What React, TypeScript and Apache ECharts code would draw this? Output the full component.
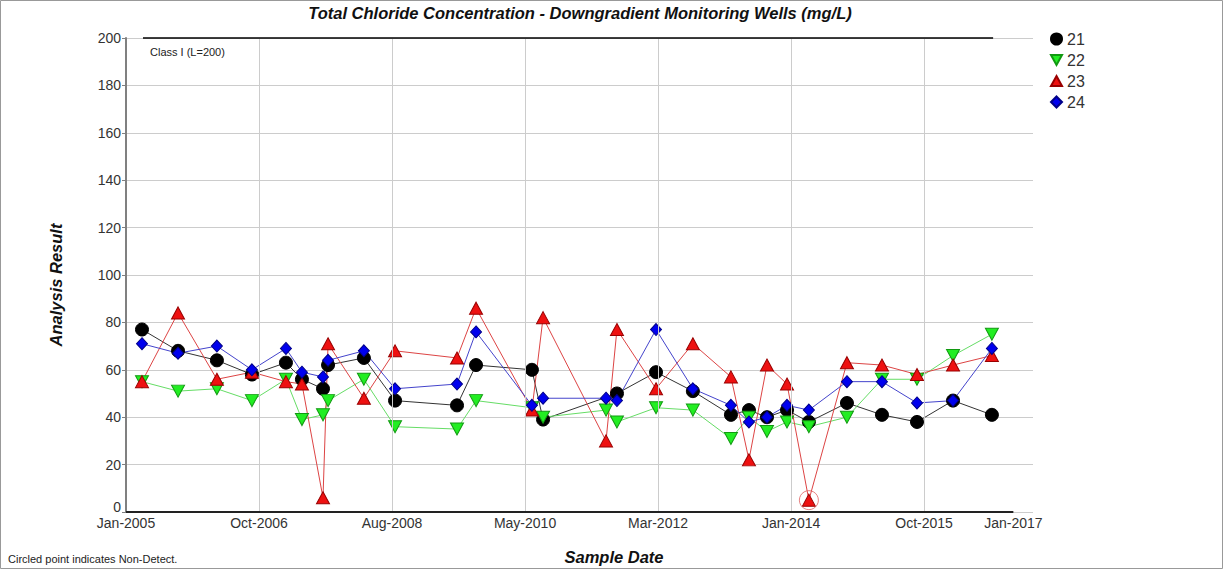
import React, { useEffect, useRef } from "react";
import * as echarts from "echarts";

// ---- data ----
const sampleDates = [
  "2005-03-21", "2005-09-15", "2006-03-26", "2006-09-15", "2007-03-02", "2007-05-20",
  "2007-09-01", "2007-09-26", "2008-03-21", "2008-08-22", "2009-06-24", "2009-09-26",
  "2010-06-29", "2010-08-23", "2011-06-30", "2011-08-23", "2012-03-03", "2012-09-01",
  "2013-03-08", "2013-06-05", "2013-09-02", "2013-12-10", "2014-03-28", "2014-10-02",
  "2015-03-24", "2015-09-13", "2016-03-09", "2016-09-17",
];
const well21 = [77, 68, 64, 58, 63, 56, 52, 62, 65, 47, 45, 62, 60, 39, null, 50, 59, 51, 41, 43, 40, 43, 38, 46, 41, 38, 47, 41];
const well22 = [55, 51, 52, 47, 56, 39, 41, 47, 56, 36, 35, 47, 44, 40, 43, 38, 44, 43, 31, 40, 34, 38, 36, 40, 56, 56, 66, 75];
const well23 = [55, 84, 56, 59, 55, 54, 6, 71, 48, 68, 65, 86, 43, 82, 30, 77, 52, 71, 57, 22, 62, 54, 5, 63, 62, 58, 62, 66];
const well24 = [71, 67, 70, 60, 69, 59, 57, 64, 68, 52, 54, 76, 45, 48, 48, 47, 77, 52, 45, 38, 40, 45, 43, 55, 55, 46, 47, 69];

const nonDetectDates = ["2014-03-28"];
const nonDetectValues = [5];

const xTickDays = [0, 657, 1314, 1971, 2628, 3285, 3942, 4383];
const xTickLabels = ["Jan-2005", "Oct-2006", "Aug-2008", "May-2010", "Mar-2012", "Jan-2014", "Oct-2015", "Jan-2017"];

const limitValue = 200;
const limitLabel = "Class I (L=200)";
const limitStartDays = 84;
const limitEndDays = 4283;

const titleText = "Total Chloride Concentration - Downgradient Monitoring Wells (mg/L)";
const yName = "Analysis Result";
const xName = "Sample Date";
const footnote = "Circled point indicates Non-Detect.";

// ---- helpers ----
const EPOCH = Date.UTC(2005, 0, 1);
const toDays = (s: string) => {
  const [y, m, d] = s.split("-").map(Number);
  return (Date.UTC(y, m - 1, d) - EPOCH) / 86400000;
};
const pts = (vals: (number | null)[]) =>
  sampleDates
    .map((d, i) => [toDays(d), vals[i]])
    .filter((p) => p[1] !== null && p[1] !== undefined);

const FONT = 'Arial, "Liberation Sans", sans-serif';

export default function App() {
  const ref = useRef<HTMLDivElement>(null);
  useEffect(() => {
    if (!ref.current) return;
    const chart = echarts.init(ref.current, undefined, { renderer: "svg" });

    const mkSeries = (name: string, vals: (number | null)[], symbol: string, size: any, color: string, border: string, line: string, rotate = 0) => ({
      type: "line",
      name,
      data: pts(vals),
      symbol,
      symbolSize: size,
      symbolRotate: rotate,
      showAllSymbol: true,
      z: 3,
      lineStyle: { color: line, width: 1 },
      itemStyle: { color, borderColor: border, borderWidth: 1, opacity: 1 },
      emphasis: { disabled: true },
    });

    const option: any = {
      animation: false,
      backgroundColor: "#ffffff",
      textStyle: { fontFamily: FONT },
      grid: { left: 126, right: 192, top: 38, bottom: 59, containLabel: false },
      xAxis: {
        type: "value",
        min: 0,
        max: 4480,
        axisLine: { show: false },
        axisTick: { show: false },
        splitLine: { show: false },
        axisLabel: {
          customValues: xTickDays,
          formatter: (v: number) => {
            const i = xTickDays.indexOf(Math.round(v));
            return i >= 0 ? xTickLabels[i] : "";
          },
          fontSize: 14,
          lineHeight: 14,
          color: "#333",
          fontFamily: FONT,
          margin: 4,
        },
      },
      yAxis: {
        type: "value",
        min: 0,
        max: 200,
        interval: 20,
        axisLine: { show: true, lineStyle: { color: "#808080", width: 2 } },
        axisTick: { show: true, length: 4, lineStyle: { color: "#808080" } },
        axisLabel: {
          fontSize: 14,
          lineHeight: 12,
          color: "#333",
          fontFamily: FONT,
          margin: 5,
          formatter: (v: number) => (v === 0 ? "" : String(v)),
        },
        splitLine: { show: true, lineStyle: { color: "#cccccc", width: 1 } },
      },
      legend: {
        orient: "vertical",
        left: 1045,
        top: 26,
        itemWidth: 11,
        itemHeight: 11,
        itemGap: 5,
        textStyle: { fontSize: 16, color: "#333", fontFamily: FONT },
        data: [
          { name: "21", icon: "circle" },
          { name: "22", icon: "path://M0,0L10,0L5,9Z" },
          { name: "23", icon: "path://M5,0L10,9L0,9Z" },
          { name: "24", icon: "diamond" },
        ],
      },
      series: [
        {
          type: "line",
          name: "refs",
          data: [],
          silent: true,
          z: 1,
          markLine: {
            silent: true,
            symbol: ["none", "none"],
            label: { show: false },
            animation: false,
            data: [
              ...xTickDays.slice(1, 7).map((d) => ({ xAxis: d, lineStyle: { color: "#cccccc", width: 1, type: "solid" } })),
              [
                { coord: [xTickDays[0], 0], lineStyle: { color: "#222", width: 2, type: "solid" } },
                { coord: [xTickDays[xTickDays.length - 1], 0] },
              ],
              [
                { coord: [limitStartDays, limitValue], lineStyle: { color: "#000", width: 1.5, type: "solid" } },
                { coord: [limitEndDays, limitValue] },
              ],
            ],
          },
        },
        mkSeries("21", well21, "circle", 13, "#000000", "#000000", "#333333"),
        mkSeries("22", well22, "triangle", [13, 12], "#22ee22", "#119911", "#66dd66", 180),
        mkSeries("23", well23, "triangle", [13, 12], "#ee1111", "#990000", "#dd4444"),
        mkSeries("24", well24, "diamond", [11, 12], "#0000ee", "#000088", "#4444cc"),
        {
          type: "scatter",
          name: "nd",
          data: nonDetectDates.map((d, i) => [toDays(d), nonDetectValues[i]]),
          symbol: "circle",
          symbolSize: 19,
          z: 4,
          silent: true,
          itemStyle: { color: "rgba(0,0,0,0)", borderColor: "#e06060", borderWidth: 1 },
        },
      ],
      graphic: [
        {
          type: "rect",
          shape: { x: 0.5, y: 0.5, width: 1222, height: 568 },
          style: { fill: "none", stroke: "#999", lineWidth: 1 },
          silent: true,
        },
        {
          type: "text",
          x: 121,
          y: 507,
          style: { text: "0", font: `14px ${FONT}`, fill: "#333", align: "right", verticalAlign: "middle" },
        },
        {
          type: "text",
          x: 580,
          y: 13,
          style: { text: titleText, font: `italic bold 16.5px ${FONT}`, fill: "#111", align: "center", verticalAlign: "middle" },
        },
        {
          type: "text",
          x: 56,
          y: 285,
          rotation: Math.PI / 2,
          style: { text: yName, font: `italic bold 16.5px ${FONT}`, fill: "#111", align: "center", verticalAlign: "middle" },
        },
        {
          type: "text",
          x: 614,
          y: 557,
          style: { text: xName, font: `italic bold 16.5px ${FONT}`, fill: "#111", align: "center", verticalAlign: "middle" },
        },
        {
          type: "text",
          x: 8,
          y: 559,
          style: { text: footnote, font: `11px ${FONT}`, fill: "#222", align: "left", verticalAlign: "middle" },
        },
        {
          type: "text",
          x: 150,
          y: 52,
          style: { text: limitLabel, font: `11px ${FONT}`, fill: "#222", align: "left", verticalAlign: "middle" },
        },
      ],
    };
    chart.setOption(option);
    return () => chart.dispose();
  }, []);
  return <div ref={ref} style={{ position: "absolute", left: 0, top: 0, width: 1225, height: 571 }} />;
}
